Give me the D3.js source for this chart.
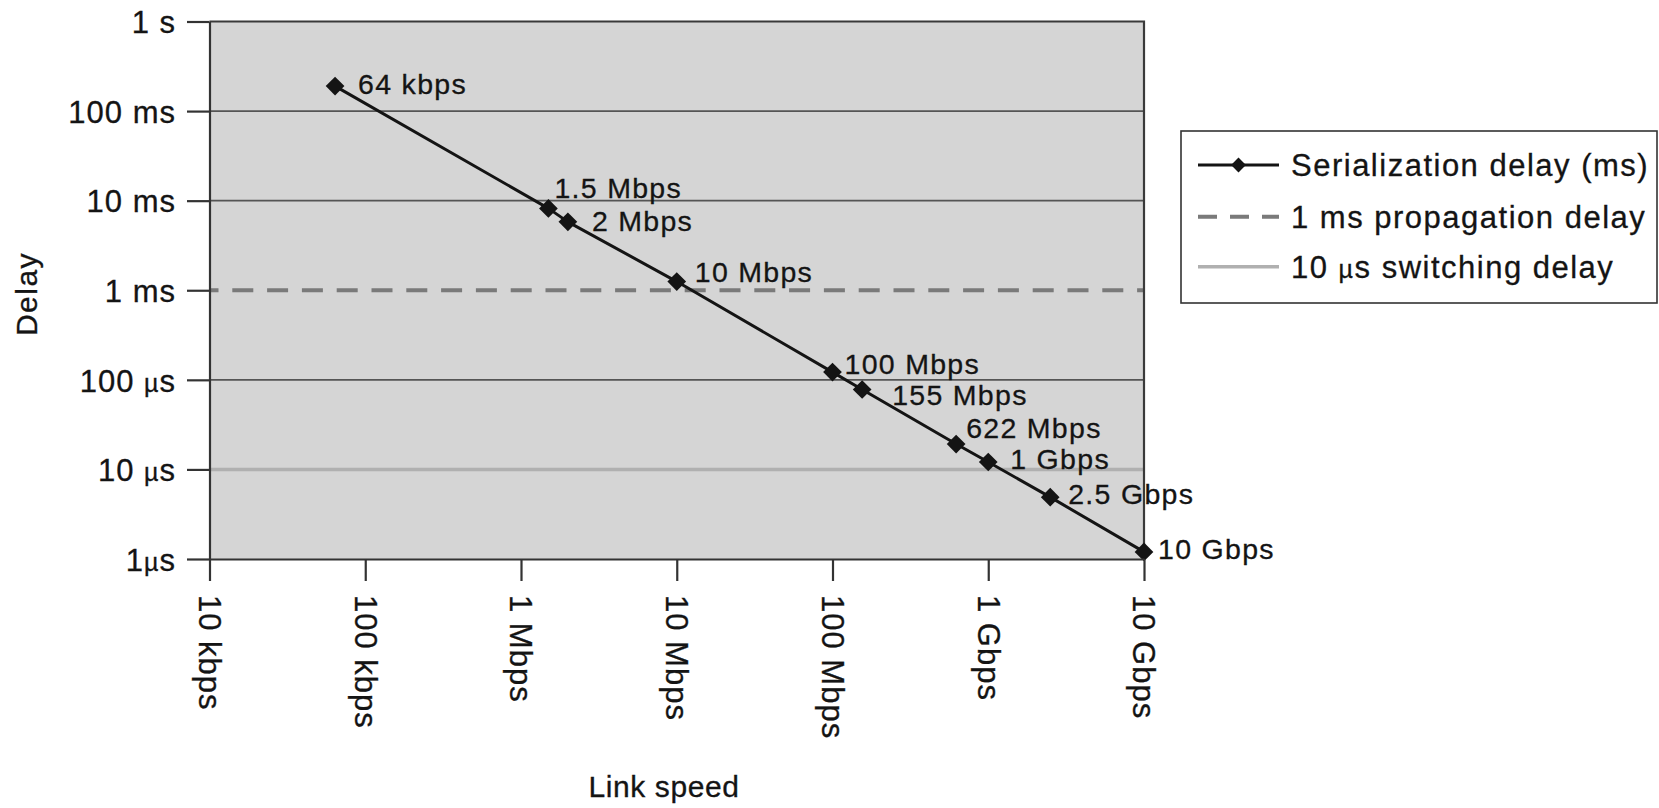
<!DOCTYPE html>
<html><head><meta charset="utf-8">
<script src="https://cdn.jsdelivr.net/npm/d3@7"></script>
<style>
html,body{margin:0;padding:0;background:#fff;}
svg{display:block;font-family:"Liberation Sans",Arial,Helvetica,sans-serif;}
</style></head><body>
<svg id="chart" width="1659" height="808"></svg>
<script>
// ---- data ----
const speedLabels = ["64 kbps","1.5 Mbps","2 Mbps","10 Mbps","100 Mbps","155 Mbps","622 Mbps","1 Gbps","2.5 Gbps","10 Gbps"];
const speedsBps = [64e3, 1.5e6, 2e6, 10e6, 100e6, 155e6, 622e6, 1e9, 2.5e9, 10e9];
const serializationMs = [190, 8.2, 5.8, 1.25, 0.122, 0.078, 0.0192, 0.0121, 0.0049, 0.0012];
const propagationMs = 1;
const switchingMs = 0.01;
const xTickValues = [1e4, 1e5, 1e6, 1e7, 1e8, 1e9, 1e10];
const xTickLabels = ["10 kbps","100 kbps","1 Mbps","10 Mbps","100 Mbps","1 Gbps","10 Gbps"];
const yTickValues = [1000, 100, 10, 1, 0.1, 0.01, 0.001];
const yTickLabels = ["1 s","100 ms","10 ms","1 ms","100 µs","10 µs","1µs"];
const gridValues = [100, 10, 0.1];
const legendLabels = ["Serialization delay (ms)","1 ms propagation delay","10 µs switching delay"];
// label placement (layout only): [dx, dy] from marker
const labelOffsets = [[23,-2],[6,-21],[24,-1],[18,-10],[12,-8],[30,5],[10,-16],[22,-3],[18,-3],[14,-3]];

// ---- layout ----
const svg = d3.select("#chart");
const x = d3.scaleLog().domain([1e4, 1e10]).range([209.5, 1144]);
const y = d3.scaleLog().domain([0.001, 1000]).range([559, 21.5]);
const X0 = x.range()[0], X1 = x.range()[1], Y0 = y.range()[0], Y1 = y.range()[1];

function addMu(sel, str, muSize){
  sel.text(null);
  const parts = str.split("µ");
  sel.append("tspan").text(parts[0]);
  sel.append("tspan").attr("font-size", muSize).text("µ");
  sel.append("tspan").text(parts[1]);
}

// plot background
svg.append("rect").attr("x",X0).attr("y",Y1).attr("width",X1-X0).attr("height",Y0-Y1)
  .attr("fill","#d5d5d5");

// gridlines
svg.append("g").selectAll("line").data(gridValues).join("line")
  .attr("x1",X0).attr("x2",X1).attr("y1",d=>y(d)).attr("y2",d=>y(d))
  .attr("stroke","#555").attr("stroke-width",1.8);

// constant series
const domainX = x.domain();
const flatLine = d3.line().x(d=>x(d[0])).y(d=>y(d[1]));
svg.append("path").attr("d", flatLine(domainX.map(v=>[v, propagationMs])))
  .attr("fill","none").attr("stroke","#7a7a7a").attr("stroke-width",4)
  .attr("stroke-dasharray","21,13.8").attr("stroke-dashoffset",12);
svg.append("path").attr("d", flatLine(domainX.map(v=>[v, switchingMs])))
  .attr("fill","none").attr("stroke","#b0b0b0").attr("stroke-width",3.5);

// frame top/right
svg.append("path").attr("d",`M${X0},${Y1}H${X1}V${Y0}`).attr("fill","none")
  .attr("stroke","#3a3a3a").attr("stroke-width",2.2);

// serialization series
const pts = speedsBps.map((s,i)=>[s, serializationMs[i]]);
svg.append("path").attr("d", flatLine(pts)).attr("fill","none")
  .attr("stroke","#141414").attr("stroke-width",3).attr("stroke-linejoin","round");
const sym = d3.symbol(d3.symbolSquare, 175);
svg.append("g").selectAll("path").data(pts).join("path")
  .attr("d", sym())
  .attr("transform", d=>`translate(${x(d[0])},${y(d[1])}) rotate(45)`)
  .attr("fill","#141414");
svg.append("g").selectAll("text").data(pts).join("text")
  .attr("x",(d,i)=>x(d[0])+labelOffsets[i][0])
  .attr("y",(d,i)=>y(d[1])+labelOffsets[i][1])
  .attr("dy","0.36em")
  .attr("font-size",28.5).attr("letter-spacing",1.3).attr("fill","#141414")
  .attr("stroke","#141414").attr("stroke-width",0.3)
  .text((d,i)=>speedLabels[i]);

// y axis
const gy = svg.append("g").attr("transform",`translate(${X0},0)`)
  .call(d3.axisLeft(y).tickValues(yTickValues).tickSize(22.5).tickSizeOuter(0).tickPadding(11)
    .tickFormat((d,i)=>yTickLabels[i]));
gy.attr("font-family",null).attr("font-size",31);
gy.select(".domain").attr("stroke","#333").attr("stroke-width",2.2);
gy.selectAll(".tick line").attr("stroke","#333").attr("stroke-width",2.2);
gy.selectAll(".tick text").attr("fill","#141414").attr("letter-spacing",1).attr("dy","0.36em")
  .attr("stroke","#141414").attr("stroke-width",0.3)
  .each(function(d,i){ const s=yTickLabels[i]; if(s.includes("µ")) addMu(d3.select(this), s, 25); });

// x axis
const gx = svg.append("g").attr("transform",`translate(0,${Y0})`)
  .call(d3.axisBottom(x).tickValues(xTickValues).tickSize(22).tickSizeOuter(0)
    .tickFormat((d,i)=>xTickLabels[i]));
gx.attr("font-family",null).attr("font-size",31);
gx.select(".domain").attr("stroke","#333").attr("stroke-width",2.2);
gx.selectAll(".tick line").attr("stroke","#333").attr("stroke-width",2.2);
gx.selectAll(".tick text").attr("fill","#141414").attr("letter-spacing",1)
  .attr("stroke","#141414").attr("stroke-width",0.3)
  .attr("transform","rotate(90)").attr("x",36).attr("y",0).attr("dy","0.36em")
  .style("text-anchor","start");

// axis titles
svg.append("text").attr("transform","translate(37,294) rotate(-90)")
  .attr("text-anchor","middle").attr("font-size",30).attr("letter-spacing",1.5)
  .attr("fill","#141414").attr("stroke","#141414").attr("stroke-width",0.3).text("Delay");
svg.append("text").attr("x",664).attr("y",797)
  .attr("text-anchor","middle").attr("font-size",30).attr("letter-spacing",0.6)
  .attr("fill","#141414").attr("stroke","#141414").attr("stroke-width",0.3).text("Link speed");

// legend
const lg = svg.append("g");
lg.append("rect").attr("x",1181).attr("y",131).attr("width",476).attr("height",172)
  .attr("fill","#fff").attr("stroke","#333").attr("stroke-width",1.6);
const rowY = [165, 216.7, 266.7];
const lx1 = 1198, lx2 = 1279;
lg.append("line").attr("x1",lx1).attr("x2",lx2).attr("y1",rowY[0]).attr("y2",rowY[0])
  .attr("stroke","#141414").attr("stroke-width",3);
lg.append("path").attr("d", d3.symbol(d3.symbolSquare, 110)())
  .attr("transform",`translate(${(lx1+lx2)/2},${rowY[0]}) rotate(45)`).attr("fill","#141414");
lg.append("line").attr("x1",lx1).attr("x2",lx2).attr("y1",rowY[1]).attr("y2",rowY[1])
  .attr("stroke","#7a7a7a").attr("stroke-width",4).attr("stroke-dasharray","19,13");
lg.append("line").attr("x1",lx1).attr("x2",lx2).attr("y1",rowY[2]).attr("y2",rowY[2])
  .attr("stroke","#b0b0b0").attr("stroke-width",3.5);
lg.selectAll("text.lab").data(legendLabels).join("text").attr("class","lab")
  .attr("x",1291).attr("y",(d,i)=>rowY[i]).attr("dy","0.36em")
  .attr("font-size",31).attr("letter-spacing",1.5).attr("fill","#141414")
  .attr("stroke","#141414").attr("stroke-width",0.3)
  .each(function(d){ const t=d3.select(this); if(d.includes("µ")) addMu(t, d, 25); else t.text(d); });
</script></body></html>
